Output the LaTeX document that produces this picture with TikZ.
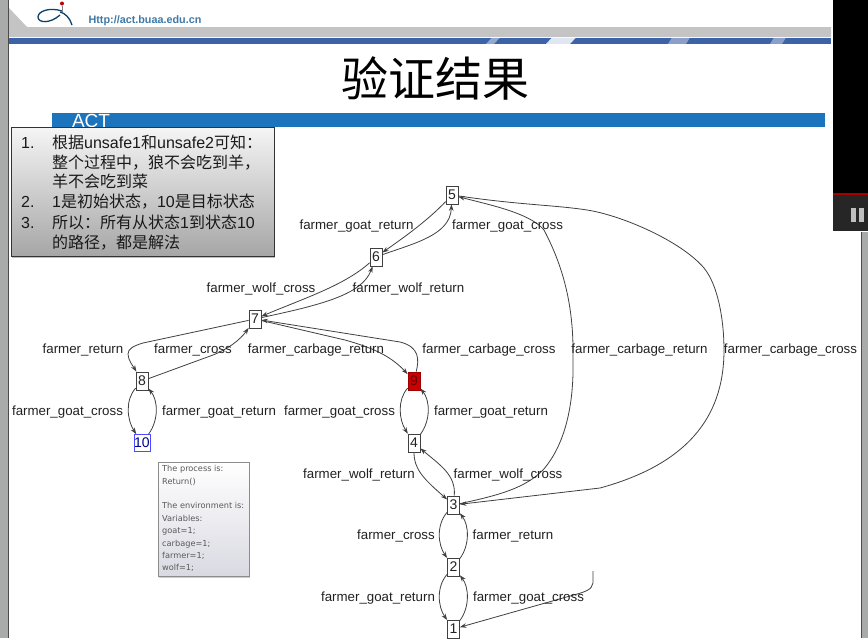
\documentclass[tikz,border=0pt]{standalone}
\usepackage{fontspec}
\setmainfont{Liberation Sans}
\newfontfamily\cjk{Noto Sans CJK SC}
\newfontfamily\smallf{DejaVu Sans}
\usetikzlibrary{arrows.meta,shadows}
\definecolor{stripgray}{HTML}{A9ABAA}
\definecolor{bandgray}{HTML}{C4C4C4}
\definecolor{bandblue}{HTML}{3C62A8}
\definecolor{barblue}{HTML}{1C75BC}
\definecolor{txt}{HTML}{222222}
\tikzset{
  x=1pt,y=-1pt,
  state/.style={draw=black!75,line width=0.7pt,fill=white,minimum width=12pt,minimum height=18pt,inner sep=0pt,font=\fontsize{14}{14}\selectfont,text=txt},
  goal/.style={state,draw=blue!70!white,text=blue!55!black,minimum width=16pt,minimum height=17pt},
  bad/.style={state,fill=red!80!black,draw=red!60!black,text=red!40!black},
  lab/.style={inner sep=0pt,font=\fontsize{13.3}{14}\selectfont,text=txt},
  edge/.style={draw=black!75,line width=0.8pt,-{Stealth[length=6.5pt,width=4.5pt]}},
  boxline/.style={inner sep=0pt,anchor=base west,font=\fontsize{16}{16}\selectfont,text=black!90},
}
\begin{document}
\begin{tikzpicture}
\useasboundingbox (0,0) rectangle (868,638);
\fill[white] (0,0) rectangle (868,638);
% window edges
\fill[stripgray] (0,0) rectangle (8,638);
\draw[black!70,line width=0.7pt] (8.4,0) -- (8.4,638);
\fill[stripgray] (861,232) rectangle (868,638);
\draw[black!70,line width=0.7pt] (861,232) -- (861,638);
% slide header
\fill[bandgray] (9,8) -- (27,27) -- (831,27) -- (831,37) -- (9,37) -- cycle;
\fill[bandblue] (9,37.5) rectangle (831,44);
\fill[white,opacity=.85] (546,44) -- (552,37.5) -- (576,37.5) -- (570,44) -- cycle;
\fill[white,opacity=.45] (486,44) -- (492,37.5) -- (500,37.5) -- (494,44) -- cycle;
\fill[white,opacity=.4] (668,44) -- (672,37.5) -- (690,37.5) -- (686,44) -- cycle;
\fill[white,opacity=.4] (770,44) -- (774,37.5) -- (786,37.5) -- (782,44) -- cycle;
% logo
\draw[barblue!55!black,line width=1.3pt] (62,11) .. controls (50,7) and (38,11) .. (38,17) .. controls (38,23) and (50,24) .. (60,15);
\draw[barblue!55!black,line width=1.3pt] (60,12) .. controls (65,13) and (70,18) .. (72,25);
\fill[red!75!black] (62,3.5) circle (2);
\draw[black!50,line width=0.5pt] (62,6) -- (62,12);
\node[inner sep=0pt,font=\bfseries\fontsize{10.8}{11}\selectfont,text=barblue!65!gray] (url) at (145,20.5) {Http://act.buaa.edu.cn};
% title
\node[inner sep=0pt,font=\cjk\fontsize{47}{47}\selectfont,text=black] (title) at (435,78) {验证结果};
\fill[barblue] (52,113) rectangle (825,127);
\node[inner sep=0pt,font=\fontsize{19}{19}\selectfont,text=white] (act) at (91,120.5) {ACT};
% video overlay
\fill[black] (833,0) rectangle (868,195);
\fill[black!85] (833,195) rectangle (868,231);
\fill[red!65!black] (833,192.5) rectangle (868,195);
\fill[black!25] (851,208) rectangle (856,222);
\fill[black!25] (859,208) rectangle (864,222);
% text box
\node[draw=black!80,line width=0.7pt,top color=white!92!gray,bottom color=black!35,drop shadow={shadow xshift=1pt,shadow yshift=-1.5pt,opacity=.5},minimum width=263pt,minimum height=129pt,inner sep=0pt] (info) at (142.5,192) {};
\node[boxline] (n1) at (21,148.5) {1.};
\node[boxline] (t1) at (52,148.5) {{\cjk 根据}unsafe1{\cjk 和}unsafe2{\cjk 可知：}};
\node[boxline] (t2) at (52,168) {{\cjk 整个过程中，狼不会吃到羊，}};
\node[boxline] (t3) at (52,187.5) {{\cjk 羊不会吃到菜}};
\node[boxline] (n2) at (21,207.5) {2.};
\node[boxline] (t4) at (52,207.5) {1{\cjk 是初始状态，}10{\cjk 是目标状态}};
\node[boxline] (n3) at (21,228) {3.};
\node[boxline] (t5) at (52,228) {{\cjk 所以：所有从状态}1{\cjk 到状态}10};
\node[boxline] (t6) at (52,248) {{\cjk 的路径，都是解法}};
% small info box
\node[draw=black!45,line width=0.6pt,top color=white,bottom color=blue!25!black!15,drop shadow={shadow xshift=1pt,shadow yshift=-1pt,opacity=.4},minimum width=91pt,minimum height=114pt,inner sep=0pt] (envbox) at (203.5,519.5) {};
\node[anchor=north west,align=left,inner sep=0pt,font=\smallf\fontsize{8.2}{12.35}\selectfont,text=black!65] (envtext) at (162,465.5) {The process is:\\Return()\\[12.35pt]The environment is:\\Variables:\\goat=1;\\carbage=1;\\farmer=1;\\wolf=1;};
% states
\node[state] (s5) at (452,195) {5};
\node[state] (s6) at (376,257) {6};
\node[state] (s7) at (255,319) {7};
\node[state] (s8) at (142,381) {8};
\node[goal] (s10) at (142,443) {10};
\node[bad] (s9) at (414,381) {9};
\node[state] (s4) at (414,443) {4};
\node[state] (s3) at (453.5,505) {3};
\node[state] (s2) at (453.5,567) {2};
\node[state] (s1) at (453.5,629) {1};
\coordinate (start) at (593,571);
% edges
\draw[edge] (s5) .. controls (428,220) and (406,236) .. (s6);
\draw[edge] (s6) .. controls (415,243) and (450,235) .. (s5);
\draw[edge] (s6) .. controls (345,285) and (305,298) .. (s7);
\draw[edge] (s7) .. controls (320,305) and (362,295) .. (s6);
\draw[edge] (s7) -- (143,343) .. controls (133,346) and (128,349) .. (128,354) .. controls (128,360) and (133,366) .. (s8);
\draw[edge] (s8) -- (213,355) .. controls (228,349) and (240,340) .. (s7);
\draw[edge] (s7) -- (345,340) .. controls (370,347) and (390,355) .. (s9);
\draw[edge] (s9) .. controls (419,360) and (420,347) .. (400,342) -- (s7);
\draw[edge] (s8) .. controls (125,400) and (127,420) .. (s10);
\draw[edge] (s10) .. controls (159,420) and (158,400) .. (s8);
\draw[edge] (s9) .. controls (397,400) and (399,420) .. (s4);
\draw[edge] (s4) .. controls (431,420) and (430,400) .. (s9);
\draw[edge] (s4) .. controls (414,470) and (425,480) .. (s3);
\draw[edge] (s3) .. controls (456,475) and (440,465) .. (s4);
\draw[edge] (s3) .. controls (436,525) and (438,545) .. (s2);
\draw[edge] (s2) .. controls (470,545) and (469,525) .. (s3);
\draw[edge] (s2) .. controls (436,587) and (438,607) .. (s1);
\draw[edge] (s1) .. controls (470,607) and (469,587) .. (s2);
\draw[edge] (s3) .. controls (500,495) and (525,488) .. (543,470) .. controls (565,445) and (574,405) .. (573,360) .. controls (574,310) and (565,270) .. (544,230) .. controls (530,213) and (490,205) .. (s5);
\draw[edge] (s5) .. controls (520,205) and (555,205) .. (587,210) .. controls (620,215) and (680,240) .. (704,268) .. controls (718,285) and (724,320) .. (724,350) .. controls (724,410) and (695,462) .. (600,488) -- (s3);
\draw[edge] (start) -- (593,583) .. controls (592,590) and (585,592) .. (570,596) -- (s1);
% labels
\node[lab] (l1) at (356.5,226.5) {farmer\_goat\_return};
\node[lab] (l2) at (507.5,226.5) {farmer\_goat\_cross};
\node[lab] (l3) at (261,288.5) {farmer\_wolf\_cross};
\node[lab] (l4) at (408.5,288.5) {farmer\_wolf\_return};
\node[lab] (l5) at (83,350.5) {farmer\_return};
\node[lab] (l6) at (193,350.5) {farmer\_cross};
\node[lab] (l7) at (316,350.5) {farmer\_carbage\_return};
\node[lab] (l8) at (489,350.5) {farmer\_carbage\_cross};
\node[lab] (l9) at (639.5,350.5) {farmer\_carbage\_return};
\node[lab] (l10) at (790.5,350.5) {farmer\_carbage\_cross};
\node[lab] (l11) at (67.5,412.5) {farmer\_goat\_cross};
\node[lab] (l12) at (219,412.5) {farmer\_goat\_return};
\node[lab] (l13) at (339.5,412.5) {farmer\_goat\_cross};
\node[lab] (l14) at (491,412.5) {farmer\_goat\_return};
\node[lab] (l15) at (359,474.5) {farmer\_wolf\_return};
\node[lab] (l16) at (508,474.5) {farmer\_wolf\_cross};
\node[lab] (l17) at (396,536.5) {farmer\_cross};
\node[lab] (l18) at (513,536.5) {farmer\_return};
\node[lab] (l19) at (378,598.5) {farmer\_goat\_return};
\node[lab] (l20) at (528.5,598.5) {farmer\_goat\_cross};
\end{tikzpicture}
\end{document}
